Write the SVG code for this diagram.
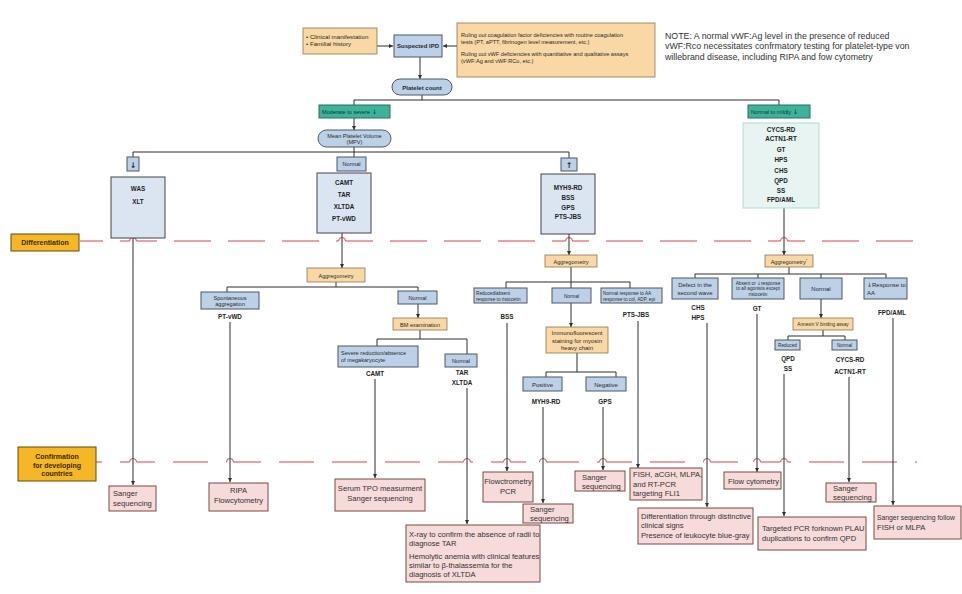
<svg xmlns="http://www.w3.org/2000/svg" width="962" height="594" viewBox="0 0 962 594">
<style>
text{font-family:"Liberation Sans",Arial,sans-serif;fill:#2a2a2a}
.sym{font-family:"DejaVu Sans",sans-serif}
.ln{stroke:#2f2f2f;stroke-width:1;fill:none}
.ar{marker-end:url(#ah)}
.lb{fill:#bcd0e8;stroke:#4d5866;stroke-width:1}
.mb{fill:#dbe5f2;stroke:#454545;stroke-width:1}
.or{fill:#f9d8a6;stroke:#8a7650;stroke-width:0.8}
.pk{fill:#f7dada;stroke:#7a4b44;stroke-width:1}
.tl{fill:#3eb39c;stroke:#2a6a5d;stroke-width:1}
.mt{fill:#e7f4f1;stroke:#b3dbd2;stroke-width:1}
.gd{fill:#f5b726;stroke:#5e4b16;stroke-width:1}
.dash{stroke:#d9474a;stroke-width:1.1;fill:none}
.hop{stroke:#d9474a;stroke-width:1;fill:none}
.hw{stroke:#ffffff;stroke-width:2.5}
.s{font-size:5.6px}
.s2{font-size:6.2px}
.xs{font-size:4.7px}
.m{font-size:6px}
.g{font-size:6.3px;font-weight:bold;fill:#1e1e1e}
.c{font-size:7.6px;fill:#333}
.cn{font-size:6.8px;fill:#333}
.lab{font-size:7px;font-weight:bold;fill:#3a2c05}
.note{font-size:8.8px;fill:#333}
.mid{text-anchor:middle}
</style>
<defs>
<marker id="ah" viewBox="0 0 6 6" refX="6" refY="3" markerWidth="4" markerHeight="4" orient="auto"><path d="M0,0 L6,3 L0,6 z" fill="#2f2f2f"/></marker>
</defs>

<!-- stage lines -->
<g id="stage-lines">
<path class="dash" d="M80,241 H913" stroke-dasharray="37 17" stroke-dashoffset="14"/>
<path class="dash" d="M96,462 H917" stroke-dasharray="35 18" stroke-dashoffset="29"/>
<g>
<path class="hw" d="M129.5,241 H136.5 M338.5,241 H345.5 M565.5,241 H572.5 M780.5,241 H787.5"/>
<path class="hop" d="M129.5,241 a3.5,3.5 0 0 1 7,0 M338.5,241 a3.5,3.5 0 0 1 7,0 M565.5,241 a3.5,3.5 0 0 1 7,0 M780.5,241 a3.5,3.5 0 0 1 7,0"/>
<path class="hw" d="M129.5,462 H136.5 M226.5,462 H233.5 M463.5,462 H470.5 M503.5,462 H510.5 M539.5,462 H546.5 M599.5,462 H606.5 M703.5,462 H710.5 M753.5,462 H760.5 M780.5,462 H787.5"/>
<path class="hop" d="M129.5,462 a3.5,3.5 0 0 1 7,0 M226.5,462 a3.5,3.5 0 0 1 7,0 M463.5,462 a3.5,3.5 0 0 1 7,0 M503.5,462 a3.5,3.5 0 0 1 7,0 M539.5,462 a3.5,3.5 0 0 1 7,0 M599.5,462 a3.5,3.5 0 0 1 7,0 M703.5,462 a3.5,3.5 0 0 1 7,0 M753.5,462 a3.5,3.5 0 0 1 7,0 M780.5,462 a3.5,3.5 0 0 1 7,0"/>
</g>
</g>

<!-- connectors -->
<g id="connectors">
<path class="ln ar" d="M377,46 H393"/>
<path class="ln ar" d="M457,46 H443"/>
<path class="ln ar" d="M420,57 V79"/>
<path class="ln" d="M422,95 V100 M354,100 H779 M354,100 V105 M779,100 V105"/>
<path class="ln ar" d="M354,118 V130"/>
<path class="ln" d="M354,147 V157 M133,152 H569 M133,152 V157 M569,152 V158"/>
<!-- left -->
<path class="ln ar" d="M133,238 V485"/>
<path class="ln ar" d="M342,233 V268"/>
<path class="ln" d="M336,282 V287 M227,287 H418 M227,287 V292 M418,287 V291"/>
<path class="ln ar" d="M418,304 V318"/>
<path class="ln" d="M420,330 V339 M377,339 H467 M377,339 V346 M467,339 V354"/>
<path class="ln ar" d="M230,322 V482"/>
<path class="ln ar" d="M375,379 V478"/>
<path class="ln ar" d="M467,388 V524"/>
<!-- middle -->
<path class="ln ar" d="M569,234 V255"/>
<path class="ln" d="M571,267 V282 M506,282 H630 M506,282 V288 M571,282 V288 M630,282 V288"/>
<path class="ln ar" d="M571,303 V327"/>
<path class="ln" d="M577,353 V372 M546,372 H616 M546,372 V377 M616,372 V377"/>
<path class="ln ar" d="M507,323 V471"/>
<path class="ln ar" d="M543,407 V503"/>
<path class="ln ar" d="M603,407 V470"/>
<path class="ln ar" d="M638,321 V468"/>
<!-- right -->
<path class="ln ar" d="M784,208 V255"/>
<path class="ln" d="M789,267 V274 M695,274 H886 M695,274 V278 M758,274 V278 M821,274 V278 M886,274 V278"/>
<path class="ln ar" d="M821,299 V318"/>
<path class="ln" d="M823,330 V336 M788,336 H845 M788,336 V340 M845,336 V340"/>
<path class="ln ar" d="M707,323 V507"/>
<path class="ln ar" d="M757,314 V472"/>
<path class="ln ar" d="M784,374 V516"/>
<path class="ln ar" d="M849,377 V482"/>
<path class="ln ar" d="M893,318 V505"/>
</g>

<!-- top -->
<g id="clinical">
<rect class="or" x="303" y="28" width="74" height="26"/>
<text class="s2" x="306" y="39">• Clinical manifestation</text>
<text class="s2" x="306" y="46">• Familial history</text>
</g>
<g id="suspected-ipd">
<rect class="lb" x="394" y="35" width="48" height="22"/>
<text class="m mid" x="418" y="48" font-weight="bold">Suspected IPD</text>
</g>
<g id="ruling-out">
<rect class="or" x="457" y="23" width="198" height="54"/>
<text class="s" x="461" y="37">Ruling out coagulation factor deficiencies with routine coagulation</text>
<text class="s" x="461" y="44">tests (PT, aPTT, fibrinogen level measurement, etc.)</text>
<text class="s" x="461" y="56">Ruling out vWF deficiencies with quantitative and qualitative assays</text>
<text class="s" x="461" y="63">(vWF:Ag and vWF:RCo, etc.)</text>
</g>
<g id="note">
<text class="note" x="665" y="38.5">NOTE: A normal vWF:Ag level in the presence of reduced</text>
<text class="note" x="665" y="49">vWF:Rco necessitates confrmatory testing for platelet-type von</text>
<text class="note" x="665" y="59.5">willebrand disease, including RIPA and fow cytometry</text>
</g>
<g id="platelet-count">
<rect class="lb" x="392" y="79" width="60" height="16" rx="8"/>
<text class="m mid" x="422" y="89.5" font-weight="bold">Platelet count</text>
</g>
<g id="moderate-severe">
<rect class="tl" x="319" y="105" width="71" height="13"/>
<text class="s" x="322" y="114" style="fill:#12352e">Moderate to severe <tspan class="sym" font-size="6.5">↓</tspan></text>
</g>
<g id="normal-mildly">
<rect class="tl" x="748" y="105" width="62" height="13"/>
<text class="s" x="751" y="114" style="fill:#12352e">Normal to mildly <tspan class="sym" font-size="6.5">↓</tspan></text>
</g>
<g id="mpv">
<rect class="lb" x="318" y="130" width="73" height="17" rx="8.5"/>
<text class="s mid" x="354.5" y="137.5">Mean Platelet Volume</text>
<text class="s mid" x="354.5" y="144">(MPV)</text>
</g>
<g id="mpv-low">
<rect class="lb" x="127" y="157" width="12" height="14"/>
<text class="sym mid" x="133" y="167.5" font-size="8" font-weight="bold" style="fill:#1e2a3a">↓</text>
</g>
<g id="mpv-normal">
<rect class="lb" x="337" y="157" width="29" height="14"/>
<text class="s mid" x="351.5" y="166">Normal</text>
</g>
<g id="mpv-high">
<rect class="lb" x="561" y="158" width="16" height="13"/>
<text class="sym mid" x="569" y="167.5" font-size="8" font-weight="bold" style="fill:#1e2a3a">↑</text>
</g>
<g id="was-xlt">
<rect class="mb" x="111" y="177" width="54" height="61"/>
<text class="g mid" x="138" y="191">WAS</text>
<text class="g mid" x="138" y="204">XLT</text>
</g>
<g id="camt-group">
<rect class="mb" x="317" y="173" width="54" height="60"/>
<text class="g mid" x="344" y="185">CAMT</text>
<text class="g mid" x="344" y="197">TAR</text>
<text class="g mid" x="344" y="209">XLTDA</text>
<text class="g mid" x="344" y="221">PT-vWD</text>
</g>
<g id="myh9-group">
<rect class="mb" x="541" y="174" width="54" height="60"/>
<text class="g mid" x="568" y="190">MYH9-RD</text>
<text class="g mid" x="568" y="200">BSS</text>
<text class="g mid" x="568" y="210">GPS</text>
<text class="g mid" x="568" y="219">PTS-JBS</text>
</g>
<g id="cycs-group">
<rect class="mt" x="743" y="123" width="76" height="85"/>
<text class="g mid" x="781" y="131.5">CYCS-RD</text>
<text class="g mid" x="781" y="141">ACTN1-RT</text>
<text class="g mid" x="781" y="151.5">GT</text>
<text class="g mid" x="781" y="162">HPS</text>
<text class="g mid" x="781" y="172.5">CHS</text>
<text class="g mid" x="781" y="182.5">QPD</text>
<text class="g mid" x="781" y="193">SS</text>
<text class="g mid" x="781" y="202">FPD/AML</text>
</g>

<g id="differentiation-label">
<rect class="gd" x="11" y="234" width="68" height="17"/>
<text class="lab mid" x="45" y="245">Differentiation</text>
</g>
<g id="confirmation-label">
<rect class="gd" x="18" y="447" width="78" height="34"/>
<text class="lab mid" x="57" y="459">Confirmation</text>
<text class="lab mid" x="57" y="467.5">for developing</text>
<text class="lab mid" x="57" y="476">countries</text>
</g>

<!-- left branch -->
<g id="aggregometry-1">
<rect class="or" x="307" y="268" width="58" height="14"/>
<text class="s mid" x="336" y="277.5">Aggregometry</text>
</g>
<g id="spontaneous">
<rect class="lb" x="201" y="292" width="58" height="17"/>
<text class="s mid" x="230" y="299.5">Spontaneous</text>
<text class="s mid" x="230" y="306">aggregation</text>
<text class="g mid" x="230" y="318.5">PT-vWD</text>
</g>
<g id="agg-normal-1">
<rect class="lb" x="398" y="291" width="39" height="13"/>
<text class="s mid" x="417.5" y="299.5">Normal</text>
</g>
<g id="bm-exam">
<rect class="or" x="393" y="318" width="54" height="12"/>
<text class="s mid" x="420" y="326.5">BM examination</text>
</g>
<g id="severe-reduction">
<rect class="lb" x="338" y="346" width="80" height="21"/>
<text class="s" x="341" y="354.5">Severe reduction/absence</text>
<text class="s" x="341" y="362">of megakaryocyte</text>
<text class="g mid" x="375" y="375.5">CAMT</text>
</g>
<g id="bm-normal">
<rect class="lb" x="445" y="354" width="32" height="13"/>
<text class="s mid" x="461" y="362.5">Normal</text>
<text class="g mid" x="462" y="375">TAR</text>
<text class="g mid" x="462" y="384.5">XLTDA</text>
</g>
<g id="conf-sanger-1">
<rect class="pk" x="109" y="486" width="47" height="25"/>
<text class="c" x="113" y="496">Sanger</text>
<text class="c" x="113" y="505.5">sequencing</text>
</g>
<g id="conf-ripa">
<rect class="pk" x="209" y="483" width="59" height="28"/>
<text class="c mid" x="238.5" y="492.5">RIPA</text>
<text class="c mid" x="238.5" y="503">Flowcytometry</text>
</g>
<g id="conf-serum">
<rect class="pk" x="335" y="479" width="90" height="32"/>
<text class="c mid" x="380" y="491">Serum TPO measurment</text>
<text class="c mid" x="380" y="501">Sanger sequencing</text>
</g>
<g id="conf-xray">
<rect class="pk" x="406" y="525" width="134" height="57"/>
<text class="c" x="409" y="536.5">X-ray to confirm the absence of radii to</text>
<text class="c" x="409" y="545.5">diagnose TAR</text>
<text class="c" x="409" y="558.5">Hemolytic anemia with clinical features</text>
<text class="c" x="409" y="567.5">similar to β-thalassemia for the</text>
<text class="c" x="409" y="576.5">diagnosis of XLTDA</text>
</g>

<!-- middle branch -->
<g id="aggregometry-2">
<rect class="or" x="545" y="255" width="52" height="12"/>
<text class="s mid" x="571" y="263.5">Aggregometry</text>
</g>
<g id="reduced-ristocetin">
<rect class="lb" x="474" y="288" width="53" height="15"/>
<text class="xs" x="476" y="294.5">Reduced/absent</text>
<text class="xs" x="476" y="300.5">response to ristocetin</text>
<text class="g mid" x="507" y="319">BSS</text>
</g>
<g id="agg-normal-2">
<rect class="lb" x="552" y="288" width="39" height="15"/>
<text class="xs mid" x="571.5" y="297.5">Normal</text>
</g>
<g id="normal-aa">
<rect class="lb" x="601" y="288" width="61" height="15"/>
<text class="xs" x="603" y="294.5">Normal response to AA</text>
<text class="xs" x="603" y="300.5">response to col, ADP, epi</text>
<text class="g mid" x="636" y="317">PTS-JBS</text>
</g>
<g id="immunofluorescent">
<rect class="or" x="546" y="327" width="62" height="26"/>
<text class="m mid" x="577" y="335">Immunofluorescent</text>
<text class="m mid" x="577" y="342.5">staining for myosin</text>
<text class="m mid" x="577" y="350">heavy chain</text>
</g>
<g id="positive">
<rect class="lb" x="523" y="377" width="39" height="14"/>
<text class="m mid" x="542.5" y="386.5">Positive</text>
<text class="g mid" x="546" y="403.5">MYH9-RD</text>
</g>
<g id="negative">
<rect class="lb" x="586" y="377" width="40" height="14"/>
<text class="m mid" x="606" y="386.5">Negative</text>
<text class="g mid" x="605" y="403.5">GPS</text>
</g>
<g id="conf-flowctrometry">
<rect class="pk" x="483" y="472" width="50" height="30"/>
<text class="c mid" x="508" y="483.5">Flowctrometry</text>
<text class="c mid" x="508" y="493.5">PCR</text>
</g>
<g id="conf-sanger-2">
<rect class="pk" x="523" y="504" width="50" height="19"/>
<text class="c" x="530" y="512">Sanger</text>
<text class="c" x="530" y="521">sequencing</text>
</g>
<g id="conf-sanger-3">
<rect class="pk" x="575" y="471" width="50" height="20"/>
<text class="c" x="582" y="479.5">Sanger</text>
<text class="c" x="582" y="489">sequencing</text>
</g>
<g id="conf-fish">
<rect class="pk" x="630" y="468" width="72" height="32"/>
<text class="c" x="633" y="477">FISH, aCGH, MLPA,</text>
<text class="c" x="633" y="486.5">and RT-PCR</text>
<text class="c" x="633" y="496">targeting FLI1</text>
</g>

<!-- right branch -->
<g id="aggregometry-3">
<rect class="or" x="765" y="255" width="48" height="12"/>
<text class="s mid" x="789" y="263.5">Aggregometry<tspan font-size="4" dy="-2">*</tspan></text>
</g>
<g id="defect-second-wave">
<rect class="lb" x="672" y="278" width="46" height="21"/>
<text class="m mid" x="695" y="286.5">Defect in the</text>
<text class="m mid" x="695" y="294.5">second wave</text>
<text class="g mid" x="698" y="309.5">CHS</text>
<text class="g mid" x="698" y="319.5">HPS</text>
</g>
<g id="absent-response">
<rect class="lb" x="732" y="278" width="52" height="21"/>
<text class="xs mid" x="758" y="284.5">Absent or <tspan class="sym">↓</tspan>response</text>
<text class="xs mid" x="758" y="290">to all agonists except</text>
<text class="xs mid" x="758" y="295.5">ristocetin</text>
<text class="g mid" x="757" y="310.5">GT</text>
</g>
<g id="agg-normal-3">
<rect class="lb" x="800" y="278" width="42" height="21"/>
<text class="m mid" x="821" y="291">Normal</text>
</g>
<g id="response-aa">
<rect class="lb" x="864" y="278" width="43" height="21"/>
<text class="m" x="867" y="286.5"><tspan class="sym">↓</tspan>Response to</text>
<text class="m" x="867" y="294.5">AA</text>
<text class="g mid" x="892" y="314.5">FPD/AML</text>
</g>
<g id="annexin">
<rect class="or" x="793" y="318" width="60" height="12"/>
<text class="xs mid" x="823" y="326">Annexin V binding assay</text>
</g>
<g id="annexin-reduced">
<rect class="lb" x="775" y="340" width="25" height="10"/>
<text class="xs mid" x="787.5" y="346.8">Reduced</text>
<text class="g mid" x="788" y="360.5">QPD</text>
<text class="g mid" x="788" y="370.5">SS</text>
</g>
<g id="annexin-normal">
<rect class="lb" x="832" y="340" width="25" height="10"/>
<text class="xs mid" x="844.5" y="346.8">Normal</text>
<text class="g mid" x="850" y="361.5">CYCS-RD</text>
<text class="g mid" x="850" y="373.5">ACTN1-RT</text>
</g>
<g id="conf-differentiation">
<rect class="pk" x="638" y="508" width="115" height="36"/>
<text class="c" x="641" y="518.5">Differentiation through distinctive</text>
<text class="c" x="641" y="527.5">clinical signs</text>
<text class="c" x="641" y="537.5">Presence of leukocyte blue-gray</text>
</g>
<g id="conf-flow-cytometry">
<rect class="pk" x="724" y="472" width="57" height="17"/>
<text class="c" x="728" y="483.5">Flow cytometry</text>
</g>
<g id="conf-targeted-pcr">
<rect class="pk" x="758" y="517" width="108" height="33"/>
<text class="c" x="762" y="530.5">Targeted PCR forknown PLAU</text>
<text class="c" x="762" y="541">duplications to confirm QPD</text>
</g>
<g id="conf-sanger-4">
<rect class="pk" x="826" y="483" width="50" height="19"/>
<text class="c" x="833" y="491">Sanger</text>
<text class="c" x="833" y="500">sequencing</text>
</g>
<g id="conf-sanger-fish">
<rect class="pk" x="874" y="506" width="87" height="33"/>
<text class="cn" x="877" y="520">Sanger sequencing follow</text>
<text class="c" x="877" y="529.5">FISH or MLPA</text>
</g>
</svg>
